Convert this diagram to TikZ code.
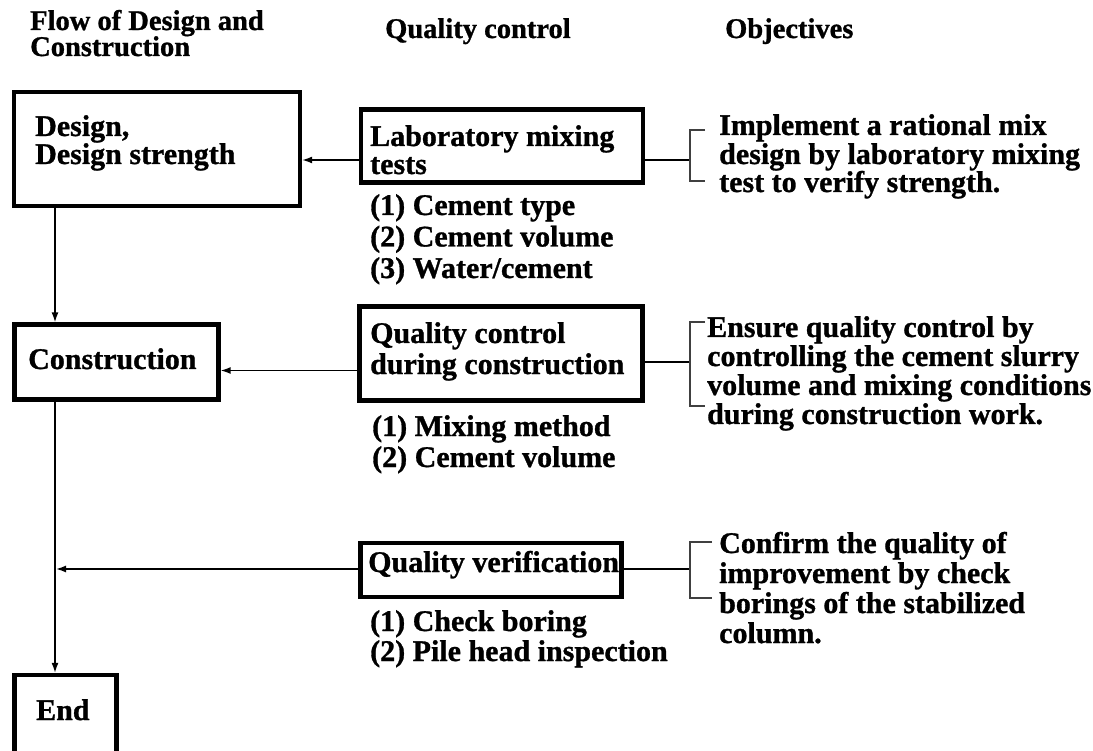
\documentclass[tikz,border=0pt]{standalone}
\usepackage{fontspec}
\setmainfont{Liberation Serif}
\newfontfamily\tnr{Liberation Serif}[BoldFont={Liberation Serif Bold}, BoldFeatures={FakeBold=1}]
\usetikzlibrary{arrows.meta}
\begin{document}
\begin{tikzpicture}[x=1pt,y=-1pt,
  box/.style={draw, line width=4.3pt, inner sep=0pt},
  txt/.style={font=\tnr\fontsize{30}{28.5}\selectfont\bfseries, anchor=base west, inner sep=0pt},
  head/.style={font=\tnr\fontsize{28.5}{28}\selectfont\bfseries, anchor=base west, inner sep=0pt},
  arr/.style={-{Latex[length=10pt,width=7pt]}, line width=1.5pt},
  conn/.style={line width=1.5pt},
  brk/.style={line width=1.4pt, draw=black!75}]
\useasboundingbox (0,0) rectangle (1093,751);
\fill[white] (0,0) rectangle (1093,751);

% headers
\node[head] (h1) at (30,30) {Flow of Design and};
\node[head] (h2) at (30,56) {Construction};
\node[head] (h3) at (385,38) {Quality control};
\node[head] (h4) at (725,38) {Objectives};

% boxes
\node[box, minimum width=286pt, minimum height=114pt] (design) at (157,149) {};
\node[box, minimum width=282pt, minimum height=73pt] (lab) at (502,146) {};
\node[box, minimum width=204pt, minimum height=75pt] (cons) at (116.5,362) {};
\node[box, minimum width=283pt, minimum height=94pt] (qc) at (501,353.5) {};
\node[box, minimum width=261pt, minimum height=54pt] (qv) at (491,570) {};
\node[box, minimum width=102pt, minimum height=84pt] (endb) at (65.5,717) {};

% box texts
\node[txt] (d1) at (35,136) {Design,};
\node[txt] (d2) at (35,164) {Design strength};
\node[txt] (l1) at (370,146) {Laboratory mixing};
\node[txt] (l2) at (370,174) {tests};
\node[txt] (c1) at (28,369) {Construction};
\node[txt] (q1) at (370,343) {Quality control};
\node[txt] (q2) at (370,374) {during construction};
\node[txt] (v1) at (368,572) {Quality verification};
\node[txt] (e1) at (36,720) {End};

% item lists
\node[txt] (i11) at (370,215) {(1) Cement type};
\node[txt] (i12) at (370,246.5) {(2) Cement volume};
\node[txt] (i13) at (370,278) {(3) Water/cement};
\node[txt] (i21) at (372,436) {(1) Mixing method};
\node[txt] (i22) at (372,467) {(2) Cement volume};
\node[txt] (i31) at (370,631) {(1) Check boring};
\node[txt] (i32) at (370,661) {(2) Pile head inspection};

% objectives
\node[txt] (o11) at (719,135) {Implement a rational mix};
\node[txt] (o12) at (719,164) {design by laboratory mixing};
\node[txt] (o13) at (719,192) {test to verify strength.};
\node[txt] (o21) at (707,337) {Ensure quality control by};
\node[txt] (o22) at (707,366) {controlling the cement slurry};
\node[txt] (o23) at (707,395) {volume and mixing conditions};
\node[txt] (o24) at (707,424) {during construction work.};
\node[txt] (o31) at (719,553) {Confirm the quality of};
\node[txt] (o32) at (719,583) {improvement by check};
\node[txt] (o33) at (719,613) {borings of the stabilized};
\node[txt] (o34) at (719,643) {column.};

% helper coordinates
\coordinate (vx) at (55,0);
\coordinate (y1) at (0,160);
\coordinate (y2) at (0,370.5);
\coordinate (y2b) at (0,362);
\coordinate (y3) at (0,569);
\coordinate (j3) at (56,569);
\coordinate (b1) at (690,160);
\coordinate (b2) at (690,362);
\coordinate (b3) at (690,569);

% main flow
\draw[arr] (design.south -| vx) -- (cons.north -| vx);
\draw[arr] (cons.south -| vx) -- (endb.north -| vx);
\draw[arr] (lab.west |- y1) -- (design.east |- y1);
\draw[arr] (qc.west |- y2) -- (cons.east |- y2);
\draw[arr] (qv.west |- y3) -- (j3);

% to objectives
\draw[conn] (lab.east |- y1) -- (b1);
\draw[conn] (qc.east |- y2b) -- (b2);
\draw[conn] (qv.east |- y3) -- (b3);

% brackets
\draw[brk] (705,130) -- (690,130) -- (690,181) -- (705,181);
\draw[brk] (705,322) -- (690,322) -- (690,406) -- (705,406);
\draw[brk] (712,542) -- (690,542) -- (690,598) -- (712,598);
\end{tikzpicture}
\end{document}
